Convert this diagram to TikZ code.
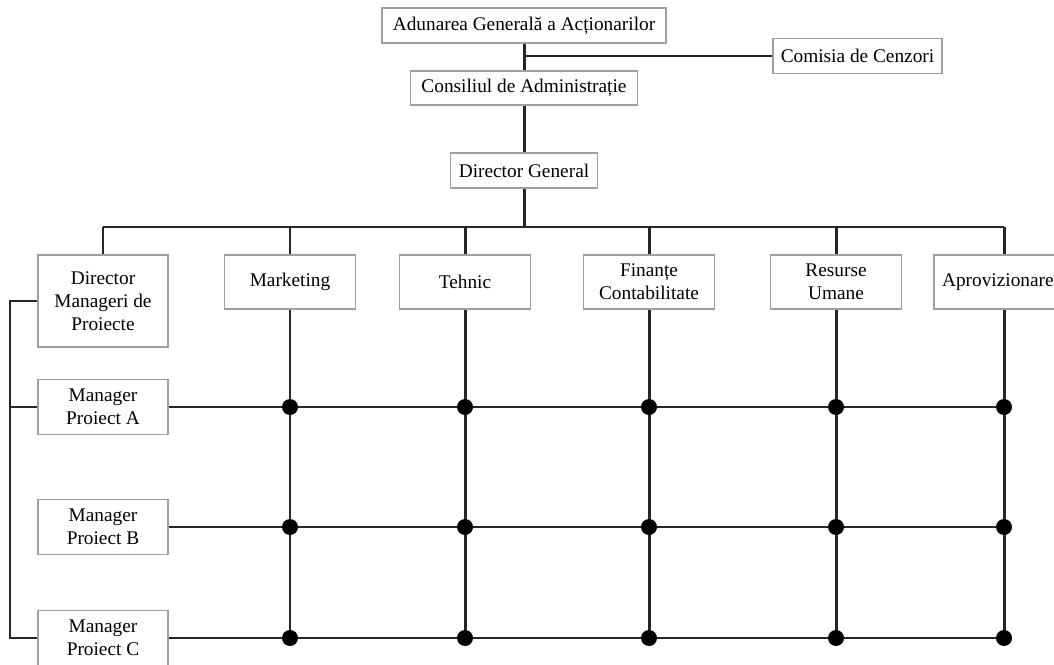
\documentclass[tikz,border=0pt]{standalone}
\usepackage{fontspec}
\setmainfont{Liberation Serif}
\usetikzlibrary{positioning}

\begin{document}
\begin{tikzpicture}[
    x=0.02cm, y=-0.02cm,
    box_style/.style={draw=gray!75, line width=0.7pt, fill=white, align=center, inner sep=0pt,
        font=\fontsize{11}{13}\selectfont},
    top_box/.style={box_style, minimum height=0.7cm},
    dept_box/.style={box_style, minimum width=2.62cm, minimum height=1.08cm},
    mgr_box/.style={box_style, minimum width=2.6cm, minimum height=1.1cm},
    link_style/.style={draw=black!85, line width=1.7pt},
    dot_style/.style={fill=black}
]

% page frame
\useasboundingbox (0,0) rectangle (1054,665);
\fill[white] (0,0) rectangle (1054,665);
\clip (0,0) rectangle (1054,665);

% TOP LEVELS
\node[top_box, minimum width=5.68cm] (aga) at (524,25.5) {Adunarea Generală a Acționarilor};
\node[top_box, minimum width=3.38cm] (cenz) at (857.5,56) {Comisia de Cenzori};
\node[top_box, minimum width=4.54cm, minimum height=0.68cm] (ca) at (524,88) {Consiliul de Administrație};
\node[top_box, minimum width=2.94cm] (dg) at (524,170.5) {Director General};

\draw[link_style] (aga.south) -- (ca.north);
\draw[link_style] (aga.south |- cenz.west) -- (cenz.west);
\draw[link_style] (ca.south) -- (dg.north);

% DEPARTMENTS
\coordinate (bus) at (524,227);
\node[box_style, minimum width=2.6cm, minimum height=1.84cm] (dmp) at (103,301) {Director\\Manageri de\\Proiecte};
\node[dept_box] (mkt) at (290,282) {Marketing};
\node[dept_box] (teh) at (465,282) {Tehnic};
\node[dept_box] (fin) at (649,282) {Finanțe\\Contabilitate};
\node[dept_box] (ru) at (836,282) {Resurse\\Umane};
\node[dept_box, minimum width=2.8cm] (apr) at (1004,282) {\hspace*{-7pt}Aprovizionare};

% bus from Director General
\draw[link_style] (dg.south) -- (bus);
\draw[link_style] (dmp.north |- bus) -- (apr.north |- bus);
\draw[link_style] (dmp.north |- bus) -- (dmp.north);
\draw[link_style] (mkt.north |- bus) -- (mkt.north);
\draw[link_style] (teh.north |- bus) -- (teh.north);
\draw[link_style] (fin.north |- bus) -- (fin.north);
\draw[link_style] (ru.north |- bus) -- (ru.north);
\draw[link_style] (apr.north |- bus) -- (apr.north);

% PROJECT MANAGERS
\node[mgr_box] (mpa) at (103,407) {Manager\\Proiect A};
\node[mgr_box] (mpb) at (103,527) {Manager\\Proiect B};
\node[mgr_box] (mpc) at (103,638) {Manager\\Proiect C};

% left link of the project line
\coordinate (lft) at (10,0);
\draw[link_style] (dmp.west) -- (dmp.west -| lft) -- (mpc.west -| lft) -- (mpc.west);
\draw[link_style] (mpa.west) -- (mpa.west -| lft);

% matrix: columns
\draw[link_style] (mkt.south) -- (mkt.south |- mpc);
\draw[link_style] (teh.south) -- (teh.south |- mpc);
\draw[link_style] (fin.south) -- (fin.south |- mpc);
\draw[link_style] (ru.south) -- (ru.south |- mpc);
\draw[link_style] (apr.south) -- (apr.south |- mpc);

% matrix: rows
\draw[link_style] (mpa.east) -- (apr.south |- mpa);
\draw[link_style] (mpb.east) -- (apr.south |- mpb);
\draw[link_style] (mpc.east) -- (apr.south |- mpc);

% crossing points
\fill[dot_style] (mkt.south |- mpa) circle (0.16cm);
\fill[dot_style] (teh.south |- mpa) circle (0.16cm);
\fill[dot_style] (fin.south |- mpa) circle (0.16cm);
\fill[dot_style] (ru.south |- mpa) circle (0.16cm);
\fill[dot_style] (apr.south |- mpa) circle (0.16cm);

\fill[dot_style] (mkt.south |- mpb) circle (0.16cm);
\fill[dot_style] (teh.south |- mpb) circle (0.16cm);
\fill[dot_style] (fin.south |- mpb) circle (0.16cm);
\fill[dot_style] (ru.south |- mpb) circle (0.16cm);
\fill[dot_style] (apr.south |- mpb) circle (0.16cm);

\fill[dot_style] (mkt.south |- mpc) circle (0.16cm);
\fill[dot_style] (teh.south |- mpc) circle (0.16cm);
\fill[dot_style] (fin.south |- mpc) circle (0.16cm);
\fill[dot_style] (ru.south |- mpc) circle (0.16cm);
\fill[dot_style] (apr.south |- mpc) circle (0.16cm);

\end{tikzpicture}
\end{document}
